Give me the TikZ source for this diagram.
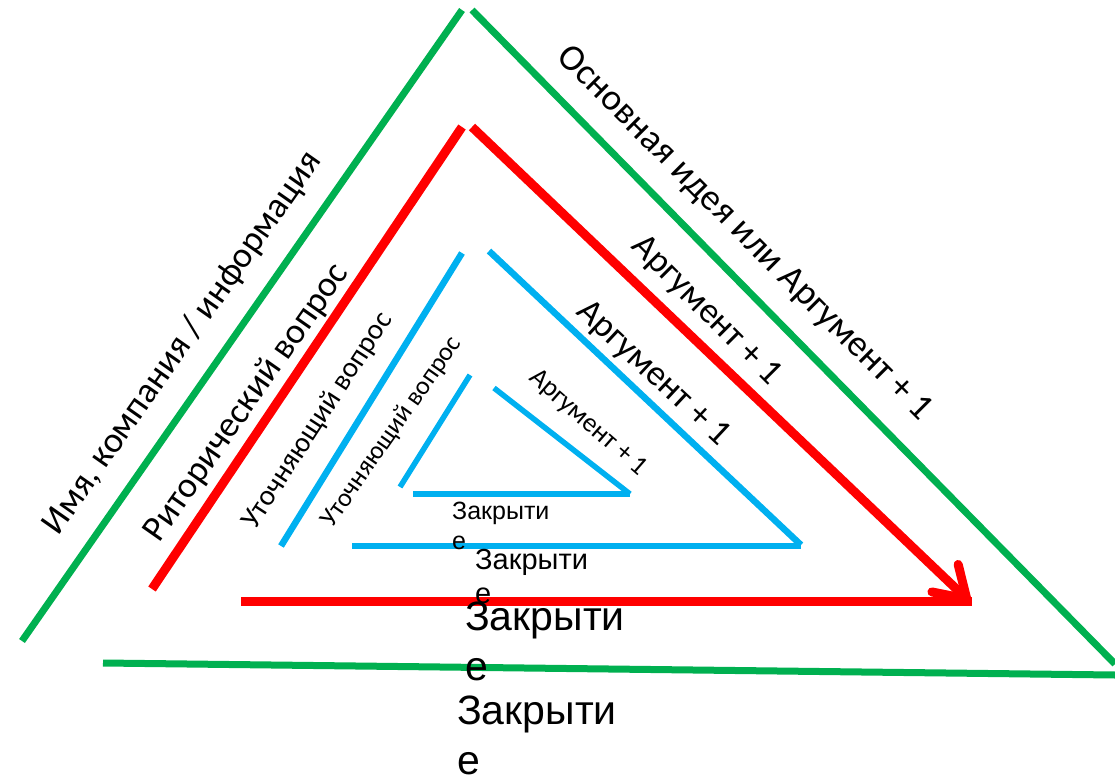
\documentclass[tikz,border=0pt]{standalone}
\usepackage{fontspec}
\setmainfont{Liberation Sans}
\newfontfamily\calfont{Carlito}
\usetikzlibrary{arrows.meta}
\definecolor{tgreen}{HTML}{00B050}
\definecolor{tred}{HTML}{FF0000}
\definecolor{tblue}{HTML}{00B0F0}

\begin{document}
\begin{tikzpicture}[x=1pt, y=-1pt,
	greenline/.style={draw=tgreen, line width=7pt},
	redline/.style={draw=tred, line width=9pt},
	blueline/.style={draw=tblue, line width=6.5pt},
	smallblue/.style={draw=tblue, line width=5.5pt},
	lbl/.style={inner sep=0pt},
	closing/.style={inner sep=0pt, anchor=north west, align=left}]
	\useasboundingbox (0,0) rectangle (1115,775);
	% outer triangle
	\coordinate (g1) at (22,641);
	\coordinate (g2) at (462,10);
	\coordinate (g3) at (472,10);
	\coordinate (g4) at (1115,664);
	\coordinate (g5) at (103,663);
	\coordinate (g6) at (1115,675);
	\draw[greenline] (g1) -- (g2);
	\draw[greenline] (g3) -- (g4);
	\draw[greenline] (g5) -- (g6);
	% red triangle with arrow
	\coordinate (r1) at (152,589);
	\coordinate (r2) at (462,127);
	\coordinate (r3) at (472,127);
	\coordinate (r4) at (970,602);
	\coordinate (r5) at (241,601);
	\coordinate (r6) at (972,601);
	\draw[redline] (r1) -- (r2);
	\draw[redline, -{Straight Barb[length=30pt, width=38pt, round]}] (r3) -- (r4);
	\draw[redline] (r5) -- (r6);
	% blue triangles
	\coordinate (b1) at (281,546);
	\coordinate (b2) at (462,253);
	\coordinate (b3) at (489,251);
	\coordinate (b4) at (801,545);
	\coordinate (b5) at (352,546);
	\coordinate (b6) at (801,546);
	\draw[blueline] (b1) -- (b2);
	\draw[blueline] (b3) -- (b4);
	\draw[blueline] (b5) -- (b6);
	\coordinate (s1) at (400,487);
	\coordinate (s2) at (470,375);
	\coordinate (s3) at (494,388);
	\coordinate (s4) at (630,494);
	\coordinate (s5) at (413,494);
	\coordinate (s6) at (630,494);
	\draw[smallblue] (s1) -- (s2);
	\draw[smallblue] (s3) -- (s4);
	\draw[smallblue] (s5) -- (s6);
	% side labels
	\node[lbl, rotate=55, font=\calfont\fontsize{36}{36}\selectfont] (name) at (183,343) {Имя, компания / информация};
	\node[lbl, rotate=55, font=\calfont\fontsize{36}{36}\selectfont] (rhet) at (247,403) {Риторический вопрос};
	\node[lbl, rotate=57, font=\calfont\fontsize{29}{29}\selectfont] (clar1) at (318,421) {Уточняющий вопрос};
	\node[lbl, rotate=55, font=\calfont\fontsize{26}{26}\selectfont] (clar2) at (392,432) {Уточняющий вопрос};
	\node[lbl, rotate=-45, font=\calfont\fontsize{37}{37}\selectfont] (idea) at (744,234) {Основная идея или Аргумент + 1};
	\node[lbl, rotate=-45, font=\calfont\fontsize{36}{36}\selectfont] (arg1) at (706,311) {Аргумент + 1};
	\node[lbl, rotate=-43, font=\calfont\fontsize{36}{36}\selectfont] (arg2) at (653,374) {Аргумент + 1};
	\node[lbl, rotate=-41, font=\calfont\fontsize{27}{27}\selectfont] (arg3) at (588,423) {Аргумент + 1};
	% closing labels
	\node[closing, font=\fontsize{25}{30}\selectfont] (close1) at (452,502) {Закрыти\\е};
	\node[closing, font=\fontsize{29}{34}\selectfont] (close2) at (475,549) {Закрыти\\е};
	\node[closing, font=\fontsize{41}{50}\selectfont] (close3) at (465,602) {Закрыти\\е};
	\node[closing, font=\fontsize{41}{50}\selectfont] (close4) at (457,696) {Закрыти\\е};
\end{tikzpicture}
\end{document}
